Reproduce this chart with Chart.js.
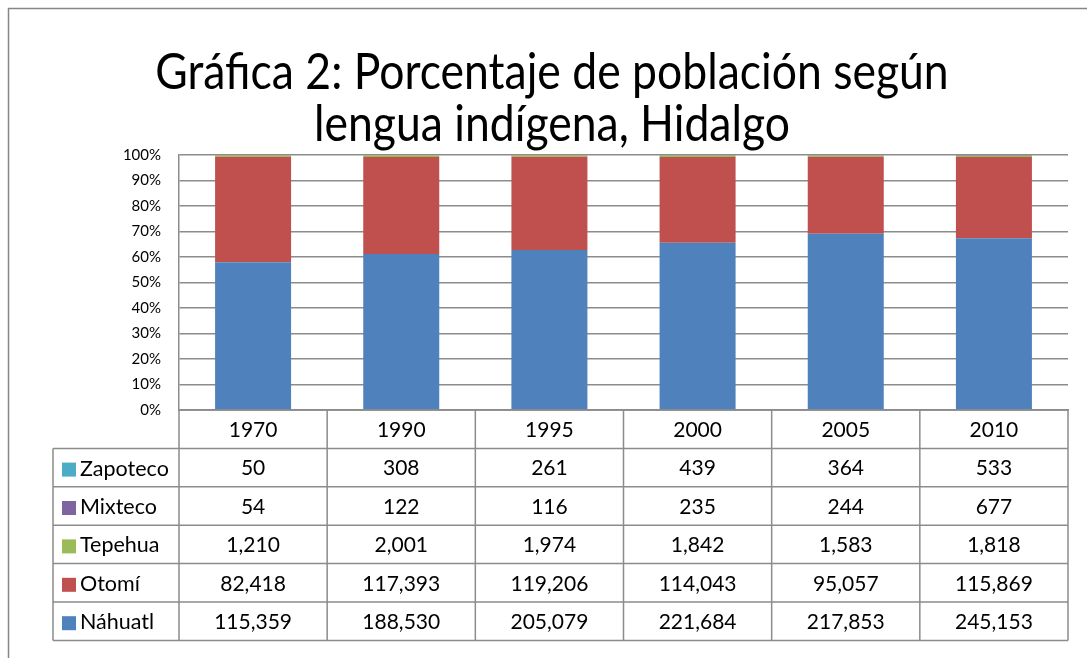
<!DOCTYPE html>
<html><head><meta charset="utf-8">
<script src="https://cdn.jsdelivr.net/npm/chart.js@4/dist/chart.umd.min.js"></script>
<style>html,body{margin:0;padding:0;background:#fff}#wrap{width:1087px;height:658px;position:relative}</style>
</head><body><div id="wrap"><canvas id="c" width="1087" height="658"></canvas></div>
<script>
const years = ['1970','1990','1995','2000','2005','2010'];
const nahuatl = [115359,188530,205079,221684,217853,245153];
const otomi = [82418,117393,119206,114043,95057,115869];
const tepehua = [1210,2001,1974,1842,1583,1818];
const mixteco = [54,122,116,235,244,677];
const zapoteco = [50,308,261,439,364,533];
const yTicks = ['0%','10%','20%','30%','40%','50%','60%','70%','80%','90%','100%'];
const titleLines = ['Gráfica 2: Porcentaje de población según','lengua indígena, Hidalgo'];

const series = [
  {name:'Náhuatl', data:nahuatl, color:'#4F81BD'},
  {name:'Otomí', data:otomi, color:'#C0504D'},
  {name:'Tepehua', data:tepehua, color:'#9BBB59'},
  {name:'Mixteco', data:mixteco, color:'#8064A2'},
  {name:'Zapoteco', data:zapoteco, color:'#4BACC6'}
];
const totals = years.map((_,i)=>series.reduce((s,d)=>s+d.data[i],0));
const FONT = 'Lato, "Open Sans", sans-serif';

const decor = {
  id:'decor',
  afterDraw(chart){
    const ctx = chart.ctx, x = chart.scales.x, ca = chart.chartArea;
    ctx.save();
    // frame (top and left edges)
    ctx.strokeStyle = '#868686'; ctx.lineWidth = 1.5;
    ctx.beginPath();
    ctx.moveTo(8.5, 660); ctx.lineTo(8.5, 8.5); ctx.lineTo(1090, 8.5);
    ctx.stroke();
    // title (slightly stretched vertically to mimic the narrower original face)
    ctx.fillStyle = '#000'; ctx.textAlign = 'center'; ctx.textBaseline = 'alphabetic';
    ctx.font = '44.5px ' + FONT;
    [[titleLines[0], 89], [titleLines[1], 141]].forEach(([t, by])=>{
      ctx.save();
      ctx.translate(552, by);
      ctx.scale(1, 1.12);
      ctx.fillText(t, 0, 0);
      ctx.restore();
    });
    // table
    const cw = (ca.right - ca.left) / years.length;
    const edges = years.map((_,i)=> x.getPixelForValue(i) - cw/2);
    edges.push(ca.right);
    const top = ca.bottom, rowH = 38.4, legL = 53;
    ctx.strokeStyle = '#8c8c8c'; ctx.lineWidth = 1.5;
    ctx.beginPath();
    const nRows = series.length;
    for (let r = 0; r <= nRows + 1; r++) {
      const y = top + r*rowH;
      ctx.moveTo(r === 0 ? ca.left : legL, y); ctx.lineTo(ca.right, y);
    }
    edges.forEach(e=>{ ctx.moveTo(e, top); ctx.lineTo(e, top + (nRows+1)*rowH); });
    ctx.moveTo(legL, top + rowH); ctx.lineTo(legL, top + (nRows+1)*rowH);
    ctx.stroke();
    ctx.font = '21px ' + FONT; ctx.textBaseline = 'middle'; ctx.fillStyle = '#000';
    years.forEach((yr,i)=>{ ctx.textAlign='center'; ctx.fillText(yr, x.getPixelForValue(i), top + rowH/2 + 1); });
    const ordered = series.slice().reverse();
    ordered.forEach((s,r)=>{
      const yc = top + (r+1)*rowH + rowH/2 + 1;
      ctx.fillStyle = s.color; ctx.fillRect(62, yc - 6, 14, 14);
      ctx.fillStyle = '#000'; ctx.textAlign = 'left';
      ctx.font = '21.5px ' + FONT;
      ctx.fillText(s.name, 80, yc);
      ctx.font = '21px ' + FONT;
      ctx.textAlign = 'center';
      s.data.forEach((v,i)=> ctx.fillText(v.toLocaleString('en-US'), x.getPixelForValue(i), yc));
    });
    ctx.restore();
  }
};

new Chart(document.getElementById('c'), {
  type:'bar',
  data:{
    labels: years,
    datasets: series.map(s=>({
      label: s.name,
      data: s.data.map((v,i)=> v / totals[i] * 100),
      backgroundColor: s.color,
      borderWidth: 0,
      barPercentage: 0.513,
      categoryPercentage: 1
    }))
  },
  options:{
    responsive:false, animation:false,
    layout:{padding:{top:155, bottom:248, left:0, right:19}},
    plugins:{legend:{display:false}, title:{display:false}, tooltip:{enabled:false}},
    scales:{
      x:{stacked:true, ticks:{display:false}, grid:{display:false, drawTicks:false}, border:{color:'#8c8c8c', width:1.5}},
      y:{stacked:true, min:0, max:100,
        afterFit(s){ s.width = 179; },
        ticks:{stepSize:10, padding:18, color:'#000', font:{family:FONT, size:15},
          callback:(v)=> yTicks[Math.round(v/10)]},
        grid:{color:'#8c8c8c', lineWidth:1.5, drawTicks:false},
        border:{color:'#8c8c8c', width:1.5}
      }
    }
  },
  plugins:[decor]
});
</script></body></html>
